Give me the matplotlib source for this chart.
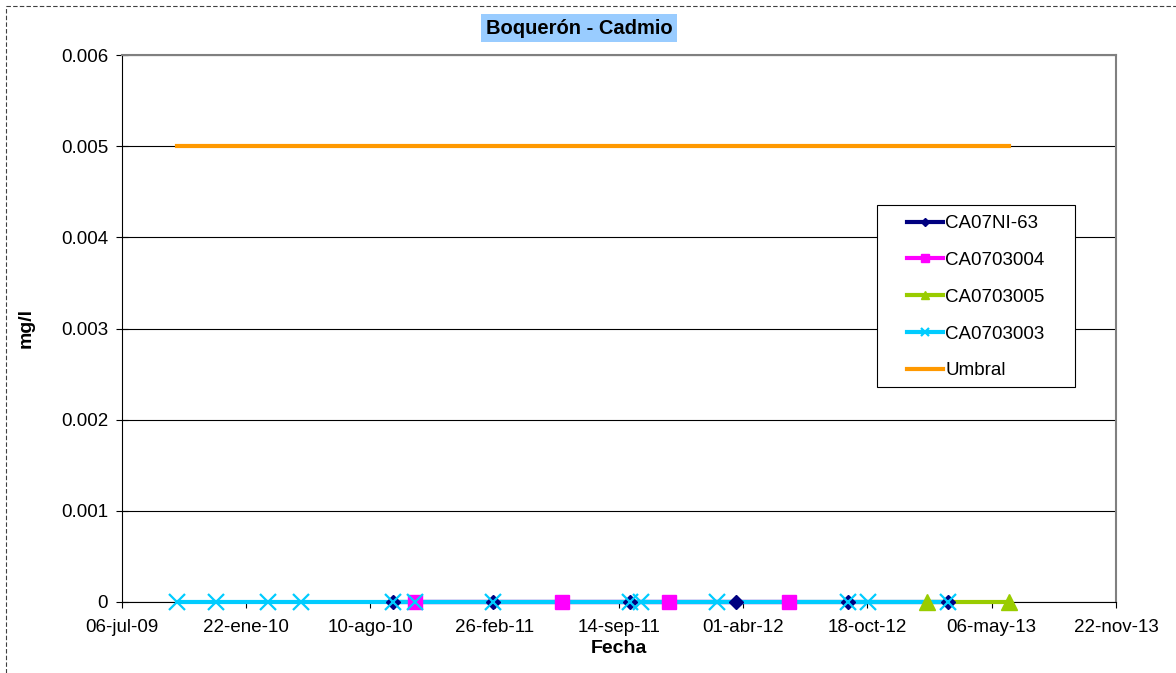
import datetime as dt
import matplotlib
matplotlib.use('Agg')
import matplotlib.pyplot as plt
import matplotlib.dates as mdates
from matplotlib.lines import Line2D
from matplotlib.patches import Rectangle

plt.rcParams['font.family'] = ['Liberation Sans', 'DejaVu Sans']

# data (all samples at 0 mg/l)
fechas_ni63 = ['2010-09-15', '2011-02-23', '2011-10-01', '2012-03-21', '2012-09-17', '2013-02-24']
valores_ni63 = [0, 0, 0, 0, 0, 0]
fechas_004 = ['2010-10-21', '2011-06-14', '2011-12-04', '2012-06-13']
valores_004 = [0, 0, 0, 0]
fechas_005 = ['2013-01-22', '2013-06-02']
valores_005 = [0, 0]
fechas_003 = ['2009-10-02', '2009-12-04', '2010-02-26', '2010-04-20', '2010-09-15', '2010-10-21',
              '2011-02-23', '2011-10-01', '2011-10-20', '2012-02-19', '2012-09-17', '2012-10-19',
              '2013-02-24']
valores_003 = [0] * 13
fechas_umbral = ['2009-10-02', '2013-06-02']
valores_umbral = [0.005, 0.005]

meses = ['ene', 'feb', 'mar', 'abr', 'may', 'jun', 'jul', 'ago', 'sep', 'oct', 'nov', 'dic']


def to_dates(lst):
    return [dt.datetime.strptime(s, '%Y-%m-%d') for s in lst]


def fmt_fecha(x, pos=None):
    d = mdates.num2date(x)
    return f'{d.day:02d}-{meses[d.month - 1]}-{d.year % 100:02d}'


W, H = 1176, 673
fig = plt.figure(figsize=(W / 100, H / 100), dpi=100)
ax = fig.add_axes([122 / W, 1 - 602 / H, (1116 - 122) / W, (602 - 55) / H])

series = [
    ('CA07NI-63', fechas_ni63, valores_ni63, '#000080', 'D', 7, 1),
    ('CA0703004', fechas_004, valores_004, '#FF00FF', 's', 10, 1),
    ('CA0703005', fechas_005, valores_005, '#99CC00', '^', 11, 1),
    ('CA0703003', fechas_003, valores_003, '#00CCFF', 'x', 11, 1.6),
]

handles = []
for i, (nombre, f, v, c, m, ms, mew) in enumerate(series):
    x = to_dates(f)
    ax.plot(x, v, color=c, lw=3, zorder=3, clip_on=False, solid_capstyle='butt')
    ax.plot(x, v, ls='none', marker=m, ms=ms, mew=mew, color=c, mec=c, zorder=5 + i, clip_on=False)
    handles.append(Line2D([], [], color=c, lw=3, marker=m, ms=ms * 0.55, mew=mew, label=nombre))

ax.plot(to_dates(fechas_umbral), valores_umbral, color='#FF9900', lw=3, zorder=4)
handles.append(Line2D([], [], color='#FF9900', lw=3, label='Umbral'))

inicio = dt.datetime(2009, 7, 6)
ticks = [inicio + dt.timedelta(days=200 * k) for k in range(9)]
ax.set_xlim(ticks[0], ticks[-1])
ax.set_xticks(ticks)
ax.xaxis.set_major_formatter(plt.FuncFormatter(fmt_fecha))

ax.set_ylim(0, 0.006)
ax.set_yticks([0, 0.001, 0.002, 0.003, 0.004, 0.005, 0.006])
ax.set_yticklabels(['0', '0.001', '0.002', '0.003', '0.004', '0.005', '0.006'])
ax.yaxis.grid(True, color='black', lw=0.8)
ax.set_axisbelow(True)

ax.tick_params(axis='both', labelsize=13.5, color='black')
ax.tick_params(axis='y', direction='inout', length=8, pad=6)
ax.tick_params(axis='x', length=4, pad=8)
for s in ['top', 'right']:
    ax.spines[s].set_color('#808080')
    ax.spines[s].set_linewidth(1.5)
for s in ['left', 'bottom']:
    ax.spines[s].set_color('black')

ax.set_xlabel('Fecha', fontsize=14, fontweight='bold', labelpad=3)
ax.set_ylabel('mg/l', fontsize=14, fontweight='bold')
ax.yaxis.set_label_coords((35 - 122) / (1116 - 122), 0.5)

fig.text(579 / W, 1 - 28 / H, 'Boquerón - Cadmio', fontsize=14.5, fontweight='bold',
         ha='center', va='center',
         bbox=dict(facecolor='#99CCFF', edgecolor='none', pad=3))

# legend box drawn separately (Excel style, wide frame)
fig.patches.append(Rectangle((877 / W, 1 - 387 / H), (1075 - 877) / W, (387 - 205) / H,
                             transform=fig.transFigure, facecolor='white', edgecolor='black',
                             lw=0.8, zorder=10))
leg = fig.legend(handles=handles, loc='upper left', bbox_to_anchor=(907 / W, 1 - 215 / H),
                 fontsize=13.5, frameon=False, labelspacing=1.05, handlelength=1.9,
                 handletextpad=0.15, borderpad=0, borderaxespad=0)
leg.set_zorder(11)

# dashed chart-area border (only top and left are visible in the image)
fig.add_artist(Line2D([6 / W, 6 / W], [0, 1 - 6 / H], transform=fig.transFigure,
                      color='#404040', ls=(0, (4, 2)), lw=0.8))
fig.add_artist(Line2D([6 / W, 1], [1 - 6 / H, 1 - 6 / H], transform=fig.transFigure,
                      color='#404040', ls=(0, (4, 2)), lw=0.8))

fig.savefig('out.png', dpi=100)
